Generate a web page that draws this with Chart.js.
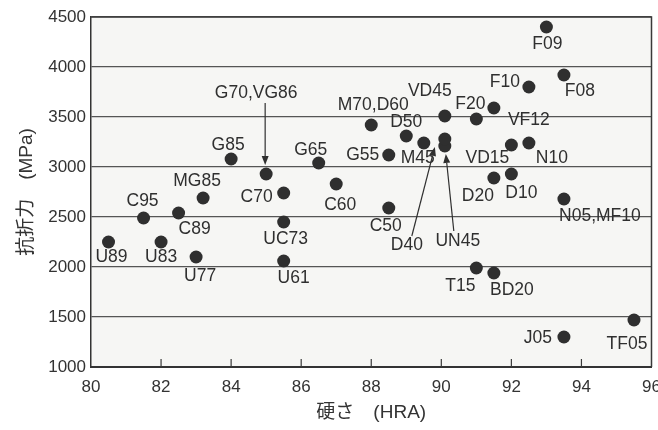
<!DOCTYPE html>
<html>
<head>
<meta charset="utf-8">
<script src="https://cdn.jsdelivr.net/npm/chart.js@4/dist/chart.umd.min.js"></script>
<style>
  html, body { margin: 0; padding: 0; background: #fff; }
  canvas { display: block; }
</style>
</head>
<body>
<canvas id="chart" width="658" height="430"></canvas>
<script>
// grade names, hardness (HRA) and transverse rupture strength (MPa)
const grades = [
  "U89", "C95", "U83", "C89", "U77", "MG85", "G85", "G70,VG86", "C70", "UC73",
  "U61", "G65", "C60", "M70,D60", "G55", "C50", "D50", "M45", "VD45", "D40",
  "UN45", "F20", "VF12", "F10", "F08", "F09", "VD15", "N10", "D20", "D10",
  "N05,MF10", "T15", "BD20", "J05", "TF05"
];
const hardness = [
  80.5, 81.5, 82.0, 82.5, 83.0, 83.2, 84.0, 85.0, 85.5, 85.5,
  85.5, 86.5, 87.0, 88.0, 88.5, 88.5, 89.0, 89.5, 90.1, 90.1,
  90.1, 91.0, 91.5, 92.5, 93.5, 93.0, 92.0, 92.5, 91.5, 92.0,
  93.5, 91.0, 91.5, 93.5, 95.5
];
const strength = [
  2250, 2490, 2250, 2540, 2100, 2690, 3080, 2930, 2740, 2450,
  2060, 3040, 2830, 3420, 3120, 2590, 3310, 3240, 3510, 3210,
  3280, 3480, 3590, 3800, 3920, 4400, 3220, 3240, 2890, 2930,
  2680, 1990, 1940, 1300, 1470
];
const xTicks = [80, 82, 84, 86, 88, 90, 92, 94, 96];
const yTicks = [1000, 1500, 2000, 2500, 3000, 3500, 4000, 4500];

// label placement relative to each point (pixels)
const labelOffset = {
  "U89": [3, 15], "C95": [-1, -17], "U83": [0, 15], "C89": [16, 16], "U77": [4, 19],
  "MG85": [-6, -17], "G85": [-3, -14], "G70,VG86": [-10, -81], "C70": [-27, 4],
  "UC73": [2, 17], "U61": [10, 17], "G65": [-8, -13], "C60": [4, 21],
  "M70,D60": [2, -20], "G55": [-26, 0], "C50": [-3, 18], "D50": [0, -14],
  "M45": [-6, 15], "VD45": [-15, -25], "D40": [-38, 99], "UN45": [13, 102],
  "F20": [-6, -15], "VF12": [35, 12], "F10": [-24, -5], "F08": [16, 16],
  "F09": [1, 17], "VD15": [-24, 13], "N10": [23, 15], "D20": [-16, 18],
  "D10": [10, 19], "N05,MF10": [36, 17], "T15": [-16, 18], "BD20": [18, 17],
  "J05": [-26, 1], "TF05": [-7, 24]
};
// arrows: [start dx, start dy, tip dx, tip dy] relative to the point
const arrows = {
  "G70,VG86": [-1, -71, -1, -9],
  "D40": [-33, 90, -10, 1],
  "UN45": [9, 92, 1, 15]
};

const ink = "#2f2f2f";
const labelFont = '17.5px "Liberation Sans", Arial, sans-serif';

function drawArrow(ctx, x1, y1, x2, y2) {
  const ang = Math.atan2(y2 - y1, x2 - x1);
  const len = 9, half = 3.5;
  const bx = x2 - len * Math.cos(ang), by = y2 - len * Math.sin(ang);
  ctx.beginPath();
  ctx.moveTo(x1, y1);
  ctx.lineTo(bx, by);
  ctx.stroke();
  ctx.beginPath();
  ctx.moveTo(x2, y2);
  ctx.lineTo(bx + half * Math.sin(ang), by - half * Math.cos(ang));
  ctx.lineTo(bx - half * Math.sin(ang), by + half * Math.cos(ang));
  ctx.closePath();
  ctx.fill();
}

const decor = {
  id: "decor",
  beforeDraw(chart) {
    const { ctx, chartArea: a } = chart;
    ctx.save();
    ctx.fillStyle = "#fff";
    ctx.fillRect(0, 0, chart.width, chart.height);
    ctx.fillStyle = "#f6f6f4";
    ctx.fillRect(a.left, a.top, a.right - a.left, a.bottom - a.top);
    ctx.restore();
  },
  afterDatasetsDraw(chart) {
    const { ctx, chartArea: a, scales } = chart;
    ctx.save();
    // right border and top border
    ctx.strokeStyle = "#3a3a3a";
    ctx.lineWidth = 1.5;
    ctx.beginPath();
    ctx.moveTo(a.left, a.top);
    ctx.lineTo(a.right, a.top);
    ctx.lineTo(a.right, a.bottom);
    ctx.stroke();
    // inward tick marks on the bottom axis
    ctx.lineWidth = 1.2;
    xTicks.slice(1, -1).forEach(v => {
      const x = scales.x.getPixelForValue(v);
      ctx.beginPath();
      ctx.moveTo(x, a.bottom);
      ctx.lineTo(x, a.bottom - 8);
      ctx.stroke();
    });
    // point labels and arrows
    const meta = chart.getDatasetMeta(0);
    ctx.font = labelFont;
    ctx.fillStyle = ink;
    ctx.strokeStyle = ink;
    ctx.textAlign = "center";
    ctx.textBaseline = "middle";
    meta.data.forEach((pt, i) => {
      const name = grades[i];
      const off = labelOffset[name] || [0, -16];
      ctx.fillText(name, pt.x + off[0], pt.y + off[1]);
      const ar = arrows[name];
      if (ar) {
        ctx.lineWidth = 1.2;
        drawArrow(ctx, pt.x + ar[0], pt.y + ar[1], pt.x + ar[2], pt.y + ar[3]);
      }
    });
    ctx.restore();
  }
};

new Chart(document.getElementById("chart"), {
  type: "scatter",
  data: {
    datasets: [{
      data: hardness.map((h, i) => ({ x: h, y: strength[i] })),
      backgroundColor: ink,
      borderWidth: 0,
      pointRadius: 6.5,
      pointHoverRadius: 6.5
    }]
  },
  options: {
    responsive: false,
    animation: false,
    layout: { padding: { top: 17, right: 5, left: 0, bottom: 0 } },
    plugins: { legend: { display: false }, tooltip: { enabled: false } },
    scales: {
      x: {
        type: "linear",
        min: 80,
        max: 96,
        afterBuildTicks: s => { s.ticks = xTicks.map(v => ({ value: v })); },
        afterFit: s => { s.height = 63; s.paddingLeft = 0; s.paddingRight = 0; },
        grid: { display: false },
        border: { display: true, color: "#333", width: 2 },
        ticks: {
          color: "#333",
          padding: 2,
          maxRotation: 0,
          autoSkip: false,
          callback: v => String(v),
          font: { family: '"Liberation Sans", Arial, sans-serif', size: 17 }
        },
        title: {
          display: true,
          text: "硬さ\u3000(HRA)",
          color: "#333",
          padding: { top: 6, bottom: 6 },
          font: { family: '"Liberation Sans", "Noto Sans CJK JP", sans-serif', size: 19 }
        }
      },
      y: {
        type: "linear",
        min: 1000,
        max: 4500,
        afterBuildTicks: s => { s.ticks = yTicks.map(v => ({ value: v })); },
        afterFit: s => { s.width = 91; s.paddingTop = 0; s.paddingBottom = 0; },
        grid: { color: "#555", lineWidth: 1.3, drawTicks: false },
        border: { display: true, color: "#333", width: 1.5 },
        ticks: {
          color: "#333",
          padding: 5,
          autoSkip: false,
          callback: v => String(v),
          font: { family: '"Liberation Sans", Arial, sans-serif', size: 17 }
        },
        title: {
          display: true,
          text: "抗折力\u3000(MPa)",
          color: "#333",
          padding: { top: 15, bottom: 15 },
          font: { family: '"Liberation Sans", "Noto Sans CJK JP", sans-serif', size: 19 }
        }
      }
    }
  },
  plugins: [decor]
});
</script>
</body>
</html>
